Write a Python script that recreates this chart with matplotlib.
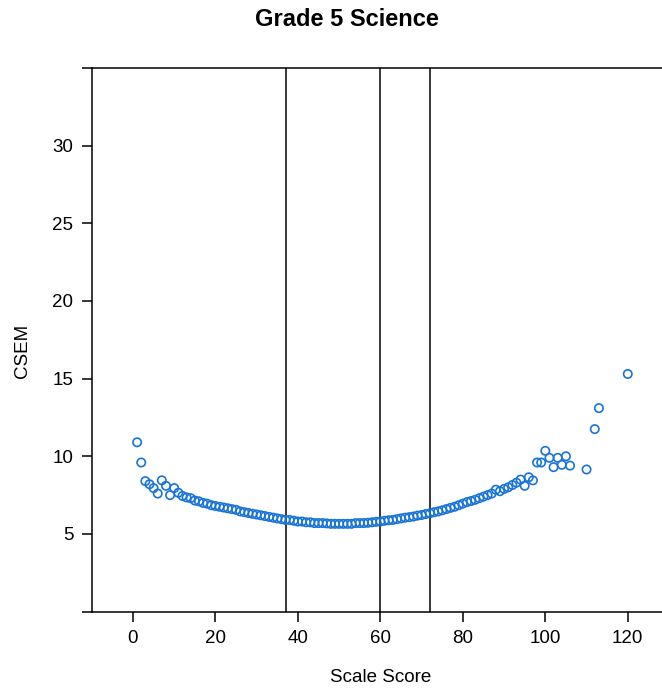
import numpy as np
import matplotlib
matplotlib.use("Agg")
import matplotlib.pyplot as plt

plt.rcParams['font.family'] = ['Liberation Sans', 'DejaVu Sans']

# scale score / CSEM pairs
scale_score = [1, 2, 3, 4, 5, 6, 7, 8, 9, 10,
               11, 12, 13, 14, 15, 16, 17, 18, 19, 20,
               21, 22, 23, 24, 25, 26, 27, 28, 29, 30,
               31, 32, 33, 34, 35, 36, 37, 38, 39, 40,
               41, 42, 43, 44, 45, 46, 47, 48, 49, 50,
               51, 52, 53, 54, 55, 56, 57, 58, 59, 60,
               61, 62, 63, 64, 65, 66, 67, 68, 69, 70,
               71, 72, 73, 74, 75, 76, 77, 78, 79, 80,
               81, 82, 83, 84, 85, 86, 87, 88, 89, 90,
               91, 92, 93, 94, 95, 96, 97, 98, 99,
               100, 101, 102, 103, 104, 105, 106, 110, 112, 113, 120]
csem = [10.9, 9.6, 8.4, 8.2, 7.95, 7.6, 8.45, 8.1, 7.5, 7.95,
        7.65, 7.45, 7.35, 7.3, 7.15, 7.1, 7.0, 6.95, 6.85, 6.8,
        6.75, 6.7, 6.65, 6.6, 6.55, 6.45, 6.4, 6.35, 6.3, 6.25,
        6.2, 6.15, 6.1, 6.05, 6.0, 5.95, 5.9, 5.9, 5.85, 5.8,
        5.8, 5.75, 5.75, 5.7, 5.7, 5.7, 5.68, 5.65, 5.65, 5.65,
        5.65, 5.65, 5.65, 5.7, 5.7, 5.7, 5.72, 5.75, 5.78, 5.8,
        5.85, 5.88, 5.9, 5.95, 6.0, 6.05, 6.08, 6.12, 6.18, 6.22,
        6.28, 6.33, 6.4, 6.45, 6.52, 6.6, 6.68, 6.75, 6.85, 6.95,
        7.05, 7.12, 7.2, 7.3, 7.4, 7.5, 7.6, 7.85, 7.75, 7.9,
        8.0, 8.15, 8.3, 8.5, 8.1, 8.65, 8.45, 9.6, 9.6,
        10.35, 9.9, 9.3, 9.9, 9.45, 10.0, 9.4, 9.15, 11.75, 13.1, 15.3]

cut_scores = [37, 60, 72]

x_ticks = [0, 20, 40, 60, 80, 100, 120]
y_ticks = [0, 5, 10, 15, 20, 25, 30, 35]
y_tick_labels = ['', '5', '10', '15', '20', '25', '30', '']

W, H = 662, 696
fig = plt.figure(figsize=(W / 100, H / 100), dpi=100)
left, right, top, bottom = 91.75, 669.0, 68.0, 611.6
ax = fig.add_axes([left / W, (H - bottom) / H, (right - left) / W, (bottom - top) / H])

ax.scatter(scale_score, csem, s=36, facecolors='none',
           edgecolors='#1874D6', linewidths=1.2, zorder=3)
for c in cut_scores:
    ax.axvline(c, color='black', lw=1.1, zorder=2)

ax.set_xlim(-10, 130)
ax.set_ylim(0, 35)
ax.set_xticks(x_ticks)
ax.set_yticks(y_ticks)
ax.set_yticklabels(y_tick_labels)
ax.tick_params(direction='out', length=7.2, width=1.1, labelsize=13.5, pad=6)
for s in ['left', 'top', 'bottom']:
    ax.spines[s].set_linewidth(1.1)
ax.spines['right'].set_visible(False)

ax.set_xlabel('Scale Score', fontsize=13.5, va='center')
ax.xaxis.set_label_coords(0.5, (bottom - 678) / (bottom - top))
ax.set_ylabel('CSEM', fontsize=13.5, va='center')
ax.yaxis.set_label_coords((22 - left) / (right - left), 0.48)

fig.text(347 / W, 1 - 20 / H, 'Grade 5 Science', ha='center', va='center',
         fontsize=17, fontweight='bold')

fig.savefig('out.png', dpi=100)
